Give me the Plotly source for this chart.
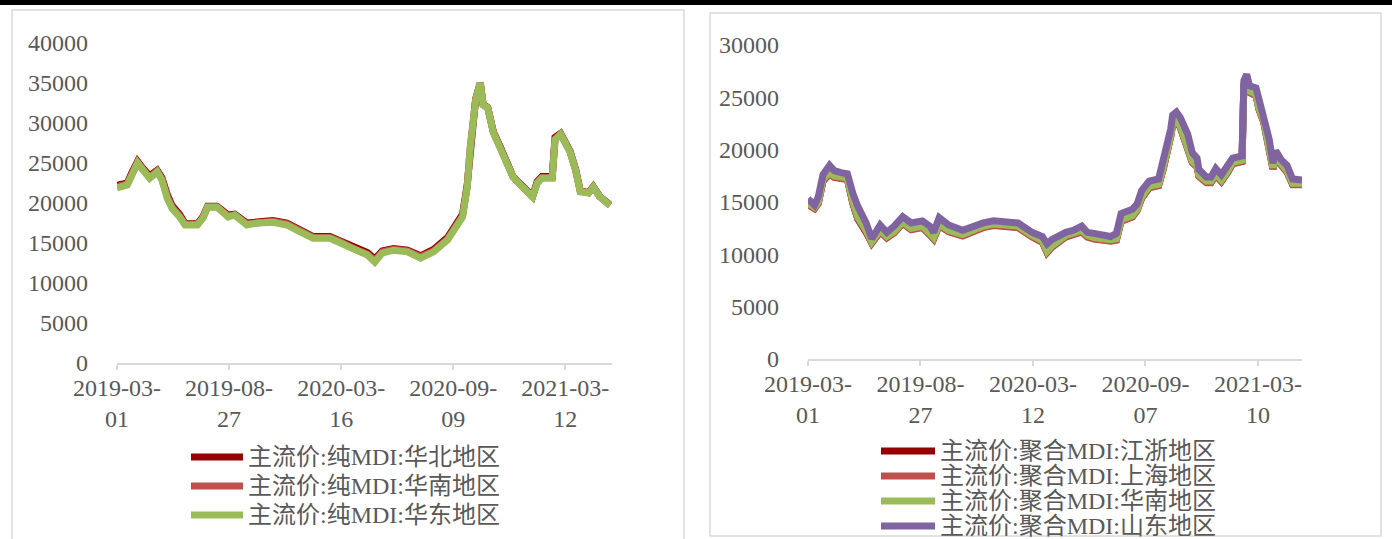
import plotly.graph_objects as go

W, H = 1392, 539

# ---------------- Left chart data (trading-day index) ----------------
x_left = [0, 11, 16, 22, 28, 35, 43, 48, 54, 59, 67, 73, 86, 92, 97, 107, 119, 126, 139, 150,
          167, 182, 196, 210, 228, 239, 253, 268, 276, 284, 296, 311, 325, 339, 354, 364, 370,
          375, 378, 384, 389, 392, 397, 403, 410, 418, 424, 435, 445, 450, 455, 466, 469, 475,
          480, 485, 491, 496, 505, 510, 517, 526, 528]
pure_huabei = [22200, 22500, 23800, 25200, 24300, 23400, 24100, 23200, 21000, 19700,
               18600, 17400, 17400, 18300, 19600, 19600, 18500, 18600, 17500, 17700,
               17800, 17500, 16700, 15800, 15800, 15300, 14500, 13800, 13000, 14000,
               14300, 14100, 13400, 14200, 15700, 17300, 18600, 22300, 26800, 33000,
               35000, 32300, 31950, 28850, 27100, 25100, 23300, 22000, 20850, 22700,
               23300, 23300, 28200, 28700, 27700, 26500, 24200, 21500, 21300, 22050,
               20800, 19800, 19750]
pure_huanan = [22000, 22400, 23600, 25100, 24200, 23200, 24000, 23000, 20800, 19500,
               18400, 17300, 17300, 18200, 19500, 19500, 18400, 18500, 17400, 17600,
               17700, 17400, 16600, 15700, 15700, 15200, 14300, 13600, 12800, 13900,
               14200, 14000, 13300, 14000, 15500, 17100, 18400, 22100, 26700, 32900,
               35000, 32300, 31900, 28900, 27100, 25100, 23300, 21900, 20800, 22600,
               23200, 23200, 28000, 28600, 27700, 26500, 24200, 21500, 21300, 22000,
               20800, 19800, 19700]
pure_huadong = [21900, 22250, 23500, 25000, 24100, 23100, 23900, 22900, 20500, 19300,
                18250, 17250, 17250, 18100, 19500, 19500, 18250, 18500, 17250, 17500,
                17600, 17250, 16400, 15600, 15600, 15000, 14100, 13500, 12600, 13750,
                14100, 13900, 13100, 13900, 15400, 17000, 18250, 22000, 26600, 32900,
                35000, 32250, 31900, 28750, 27000, 25000, 23250, 21900, 20750, 22500,
                23100, 23100, 27900, 28600, 27600, 26400, 24100, 21400, 21250, 22000,
                20750, 19750, 19700]
left_tickvals = [0, 120, 240, 360, 480]
left_ticktext = ["2019-03-<br>01", "2019-08-<br>27", "2020-03-<br>16", "2020-09-<br>09", "2021-03-<br>12"]
left_names = ["主流价:纯MDI:华北地区", "主流价:纯MDI:华南地区", "主流价:纯MDI:华东地区"]

# ---------------- Right chart data ----------------
x_right = [0, 7, 11, 16, 23, 28, 35, 42, 48, 53, 62, 68, 77, 84, 92, 101, 110, 122, 130, 134,
           140, 150, 165, 180, 187, 198, 224, 239, 250, 255, 260, 275, 283, 292, 298, 305, 323,
           329, 334, 346, 351, 356, 364, 374, 379, 384, 387, 389, 393, 397, 400, 405, 410, 415,
           417, 425, 430, 435, 441, 448, 453, 463, 465, 468, 471, 478, 481, 486, 492, 496, 499,
           505, 511, 517, 527]
poly_jiangzhe = [14800, 14400, 14900, 17000, 17700, 17400, 17300, 17200, 14800, 13400,
                 12100, 11100, 12200, 11600, 12100, 13000, 12400, 12600, 11900, 11500,
                 12800, 12200, 11800, 12400, 12600, 12800, 12600, 11700, 11200, 10200,
                 10700, 11700, 11900, 12200, 11700, 11500, 11300, 11400, 13200, 13600,
                 14200, 15400, 16400, 16600, 18200, 19800, 21300, 22400, 22700, 22200,
                 21400, 20400, 18800, 18400, 17500, 16900, 16900, 17600, 17000, 17900,
                 18700, 18900, 26200, 26700, 25500, 25200, 23900, 22700, 20200, 18200,
                 19200, 18500, 17900, 16700, 16700]
poly_shanghai = [14750, 14350, 14850, 17050, 17650, 17350, 17250, 17150, 14850, 13450,
                 12150, 11050, 12150, 11550, 12050, 12950, 12350, 12550, 11850, 11450,
                 12750, 12150, 11750, 12350, 12550, 12750, 12550, 11650, 11150, 10150,
                 10650, 11650, 11850, 12150, 11650, 11450, 11250, 11350, 13150, 13550,
                 14150, 15350, 16350, 16550, 18150, 19750, 21250, 22350, 22650, 22150,
                 21350, 20350, 18750, 18350, 17450, 16850, 16850, 17550, 16950, 17850,
                 18650, 18850, 26150, 26650, 25450, 25150, 23850, 22650, 20150, 18150,
                 19150, 18450, 17850, 16650, 16650]
poly_huanan = [14900, 14500, 15000, 17200, 17800, 17500, 17400, 17300, 15000, 13600,
               12300, 11200, 12300, 11700, 12200, 13100, 12500, 12700, 12000, 11600,
               12900, 12300, 11900, 12500, 12700, 12900, 12700, 11800, 11300, 10300,
               10800, 11800, 12000, 12300, 11800, 11600, 11400, 11500, 13300, 13700,
               14300, 15500, 16500, 16700, 18300, 19900, 21400, 22500, 22800, 22300,
               21500, 20500, 18900, 18500, 17600, 17000, 17000, 17700, 17100, 18000,
               18800, 19000, 26300, 26800, 25600, 25300, 24000, 22800, 20300, 18300,
               19300, 18600, 18000, 16800, 16800]
poly_shandong = [15300, 14700, 15500, 17600, 18500, 18000, 17800, 17700, 15800, 14600,
                 13000, 11500, 12800, 12100, 12700, 13600, 13000, 13200, 12700, 12100,
                 13500, 12800, 12300, 12800, 13000, 13200, 13000, 12100, 11700, 11000,
                 11400, 12100, 12300, 12700, 12100, 12000, 11700, 12000, 13900, 14300,
                 14800, 16100, 17000, 17200, 18900, 20500, 22000, 23300, 23600, 23100,
                 22400, 21500, 19700, 19200, 18100, 17400, 17400, 18200, 17600, 18500,
                 19200, 19400, 26600, 27200, 26100, 25900, 24800, 23600, 21000, 18700,
                 19900, 19000, 18500, 17200, 17100]
right_tickvals = [0, 120, 240, 360, 480]
right_ticktext = ["2019-03-<br>01", "2019-08-<br>27", "2020-03-<br>12", "2020-09-<br>07", "2021-03-<br>10"]
right_names = ["主流价:聚合MDI:江浙地区", "主流价:聚合MDI:上海地区", "主流价:聚合MDI:华南地区", "主流价:聚合MDI:山东地区"]

# ---------------- Styles ----------------
DARK_RED = "#960000"
LIGHT_RED = "#C0504D"
GREEN = "#9BBB59"
PURPLE = "#8064A2"
TXT = "#595959"
AXC = "#D9D9D9"
FONT = "Liberation Serif, Noto Sans CJK SC, serif"
LW = 7


def px(x):
    return x / W


def py(y):
    return 1 - y / H


fig = go.Figure()

left_series = [pure_huabei, pure_huanan, pure_huadong]
left_colors = [DARK_RED, LIGHT_RED, GREEN]
for name, vals, col in zip(left_names, left_series, left_colors):
    fig.add_trace(go.Scatter(x=x_left, y=vals, name=name, mode="lines",
                             line=dict(color=col, width=LW), xaxis="x", yaxis="y",
                             showlegend=False))

right_series = [poly_jiangzhe, poly_shanghai, poly_huanan, poly_shandong]
right_colors = [DARK_RED, LIGHT_RED, GREEN, PURPLE]
for name, vals, col in zip(right_names, right_series, right_colors):
    fig.add_trace(go.Scatter(x=x_right, y=vals, name=name, mode="lines",
                             line=dict(color=col, width=LW), xaxis="x2", yaxis="y2",
                             showlegend=False))

xcommon = dict(showgrid=False, zeroline=False, showline=True, linecolor=AXC, linewidth=1.5,
               ticks="outside", ticklen=5, tickcolor=AXC, tickwidth=1.5, automargin=False,
               ticklabelstandoff=-3,
               tickfont=dict(family=FONT, size=24, color=TXT), tickangle=0)
ycommon = dict(showgrid=False, zeroline=False, showline=False, ticks="", automargin=False,
               tickformat="d",
               tickfont=dict(family=FONT, size=24, color=TXT), ticklabelstandoff=28)

shapes = [
    # black top band
    dict(type="rect", xref="paper", yref="paper", x0=0, x1=1, y0=py(5), y1=1,
         fillcolor="black", line=dict(width=0), layer="below"),
    # left panel border
    dict(type="rect", xref="paper", yref="paper", x0=px(12), x1=px(684), y0=py(545), y1=py(10),
         line=dict(color=AXC, width=1.5), layer="below"),
    # right panel border
    dict(type="rect", xref="paper", yref="paper", x0=px(710), x1=px(1381), y0=py(536), y1=py(13),
         line=dict(color=AXC, width=1.5), layer="below"),
]
annotations = []

# manual legends
left_rows = [457, 486, 515]
for name, col, ry in zip(left_names, left_colors, left_rows):
    shapes.append(dict(type="line", xref="paper", yref="paper", x0=px(191), x1=px(243),
                       y0=py(ry), y1=py(ry), line=dict(color=col, width=7)))
    annotations.append(dict(text=name, xref="paper", yref="paper", x=px(246), y=py(ry),
                            xanchor="left", yanchor="middle", showarrow=False,
                            font=dict(family=FONT, size=24, color=TXT)))
right_rows = [451, 476, 501, 526]
for name, col, ry in zip(right_names, right_colors, right_rows):
    shapes.append(dict(type="line", xref="paper", yref="paper", x0=px(881), x1=px(935),
                       y0=py(ry), y1=py(ry), line=dict(color=col, width=7)))
    annotations.append(dict(text=name, xref="paper", yref="paper", x=px(938), y=py(ry),
                            xanchor="left", yanchor="middle", showarrow=False,
                            font=dict(family=FONT, size=24, color=TXT)))

fig.update_layout(
    template="none",
    width=W, height=H,
    margin=dict(l=0, r=0, t=0, b=0, pad=0),
    paper_bgcolor="white", plot_bgcolor="rgba(0,0,0,0)",
    showlegend=False,
    xaxis=dict(domain=[px(117), px(612)], range=[0, 530], tickvals=left_tickvals,
               ticktext=left_ticktext, anchor="y", **xcommon),
    yaxis=dict(domain=[py(363), py(43)], range=[0, 40000], tickvals=list(range(0, 40001, 5000)),
               anchor="x", **ycommon),
    xaxis2=dict(domain=[px(808), px(1302)], range=[0, 527], tickvals=right_tickvals,
                ticktext=right_ticktext, anchor="y2", **xcommon),
    yaxis2=dict(domain=[py(359), py(45)], range=[0, 30000], tickvals=list(range(0, 30001, 5000)),
                anchor="x2", **ycommon),
    shapes=shapes,
    annotations=annotations,
)

fig.write_html("out.html")
